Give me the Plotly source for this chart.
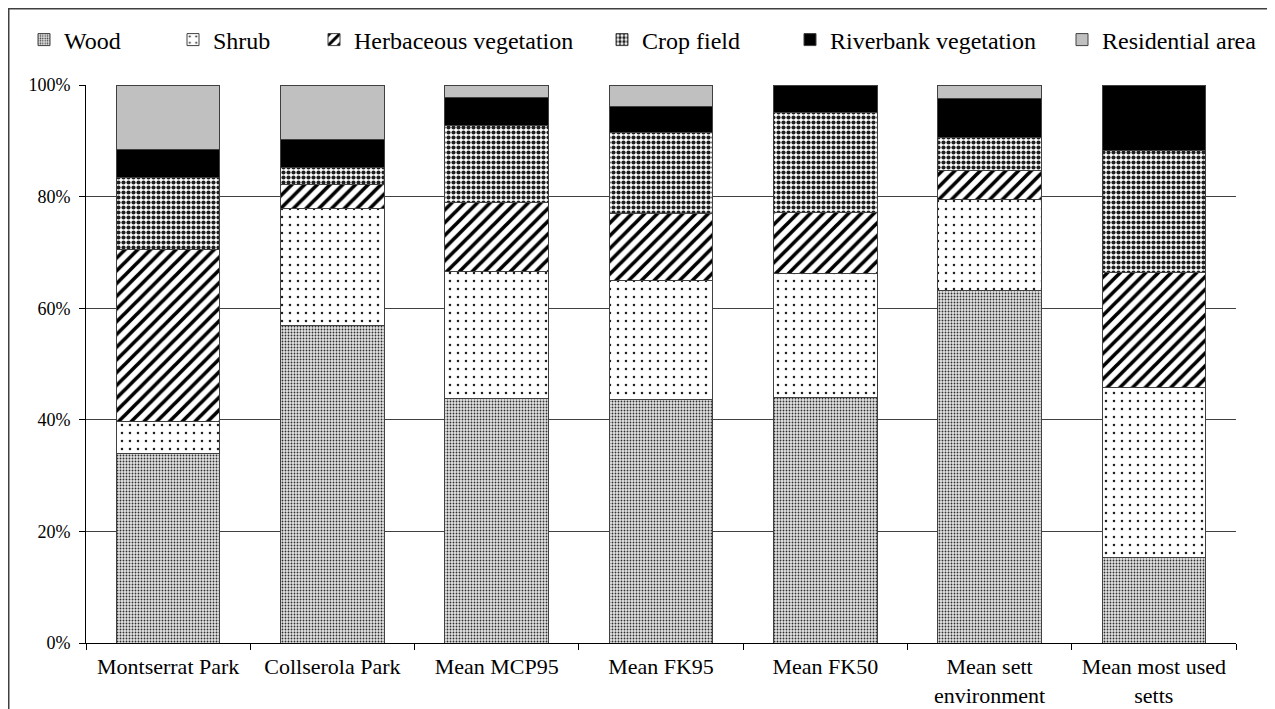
import plotly.graph_objects as go

categories = ["Montserrat Park", "Collserola Park", "Mean MCP95", "Mean FK95",
              "Mean FK50", "Mean sett<br>environment", "Mean most used<br>setts"]
wood = [34.0, 56.9, 43.8, 43.6, 44.0, 63.1, 15.4]
shrub = [5.7, 20.9, 22.7, 21.3, 22.2, 16.3, 30.4]
herbaceous = [30.8, 4.3, 12.4, 12.0, 10.9, 5.3, 20.6]
crop = [12.9, 3.2, 13.8, 14.5, 17.9, 5.9, 21.8]
riverbank = [5.0, 4.9, 5.0, 4.7, 5.0, 6.9, 11.8]
residential = [11.6, 9.8, 2.3, 3.9, 0.0, 2.5, 0.0]

series = [
    ("Wood", wood, dict(shape=".", size=3, solidity=0.3, fgcolor="#303030", bgcolor="#e4e4e4", fillmode="replace")),
    ("Shrub", shrub, dict(shape=".", size=8, solidity=0.08, fgcolor="#202020", bgcolor="white", fillmode="replace")),
    ("Herbaceous vegetation", herbaceous, dict(shape="/", size=9, solidity=0.4, fgcolor="black", bgcolor="white", fillmode="replace")),
    ("Crop field", crop, dict(shape=".", size=5, solidity=0.55, fgcolor="#202020", bgcolor="white", fillmode="replace")),
    ("Riverbank vegetation", riverbank, None),
    ("Residential area", residential, None),
]
solid_colors = {"Riverbank vegetation": "black", "Residential area": "#c0c0c0"}

# page is offset by the browser's 8px body margin
OFF = 8
legend_text_px = [63, 212, 353, 641, 829, 1101]   # screen x where each legend label starts
W, H = 1275, 709
L, R, T, B = 86 - OFF, 39 + OFF, 85 - OFF, 66 + OFF
pw, ph = W - L - R, H - T - B

fig = go.Figure()
for i, (name, vals, pat) in enumerate(series):
    marker = dict(line=dict(color="#404040", width=1))
    if pat is not None:
        marker["color"] = "white"
        marker["pattern"] = pat
    else:
        marker["color"] = solid_colors[name]
    lg = "legend" if i == 0 else f"legend{i+1}"
    fig.add_trace(go.Bar(x=categories, y=vals, name=name, marker=marker,
                         legend=lg))

font_family = "Liberation Serif"
layout_legends = {}
for i, px in enumerate(legend_text_px):
    key = "legend" if i == 0 else f"legend{i+1}"
    layout_legends[key] = dict(
        x=(px - 39 - OFF - L) / pw, xanchor="left",
        y=1 + (T - (40 - OFF)) / ph, yanchor="middle",
        orientation="h", itemwidth=30, bgcolor="rgba(0,0,0,0)",
        font=dict(family=font_family, size=24, color="black"),
    )

fig.update_layout(
    template="none",
    width=W, height=H,
    margin=dict(l=L, r=R, t=T, b=B, autoexpand=False),
    barmode="stack", bargap=0.37,
    plot_bgcolor="white", paper_bgcolor="white",
    font=dict(family=font_family, color="black"),
    showlegend=True,
    **layout_legends,
    xaxis=dict(showline=True, linecolor="black", linewidth=1, ticks="outside",
               tickson="boundaries", ticklen=6, tickcolor="black",
               ticklabelstandoff=4,
               tickfont=dict(size=22, family=font_family, color="black"),
               showgrid=False),
    yaxis=dict(range=[0, 100], dtick=20, ticksuffix="%", showline=True,
               linecolor="black", linewidth=1, ticks="outside", ticklen=6,
               tickcolor="black", showgrid=True, gridcolor="#404040",
               gridwidth=1, zeroline=False, ticklabelstandoff=5,
               tickfont=dict(size=18, family=font_family, color="black")),
    shapes=[dict(type="rect", xref="paper", yref="paper",
                 x0=(0.75 - L) / pw, x1=(W + 10 - L) / pw,
                 y0=-(B + 20) / ph, y1=1 + (T - 0.75) / ph,
                 line=dict(color="#404040", width=1.5), layer="below")],
)

fig.write_html("out.html")
